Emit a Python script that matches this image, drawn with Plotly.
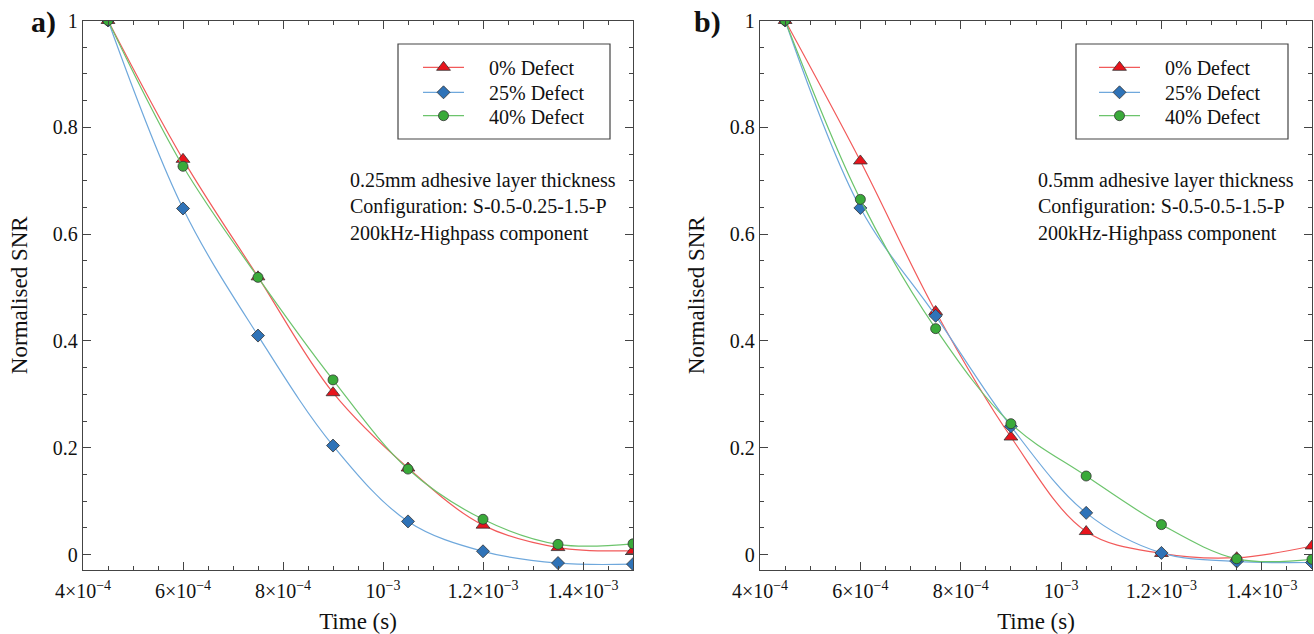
import plotly.graph_objects as go

# ---- data ----
time_s = [4.5e-4, 6.0e-4, 7.5e-4, 9.0e-4, 1.05e-3, 1.2e-3, 1.35e-3, 1.5e-3]

a_0 = [1.0, 0.740, 0.520, 0.303, 0.162, 0.055, 0.013, 0.007]
a_25 = [1.0, 0.648, 0.410, 0.204, 0.062, 0.006, -0.016, -0.018]
a_40 = [1.0, 0.727, 0.519, 0.327, 0.160, 0.066, 0.019, 0.020]

b_0 = [1.0, 0.737, 0.455, 0.220, 0.043, 0.002, -0.006, 0.016]
b_25 = [1.0, 0.649, 0.447, 0.240, 0.078, 0.003, -0.013, -0.015]
b_40 = [1.0, 0.665, 0.423, 0.245, 0.147, 0.056, -0.008, -0.009]

series_names = ["0% Defect", "25% Defect", "40% Defect"]
x_tickvals = [4e-4, 6e-4, 8e-4, 1e-3, 1.2e-3, 1.4e-3]
x_ticktext = ["4×10<sup>−4</sup>", "6×10<sup>−4</sup>", "8×10<sup>−4</sup>",
              "10<sup>−3</sup>", "1.2×10<sup>−3</sup>", "1.4×10<sup>−3</sup>"]
y_tickvals = [0, 0.2, 0.4, 0.6, 0.8, 1]
y_ticktext = ["0", "0.2", "0.4", "0.6", "0.8", "1"]

notes_a = ["0.25mm adhesive layer thickness", "Configuration: S-0.5-0.25-1.5-P",
           "200kHz-Highpass component"]
notes_b = ["0.5mm adhesive layer thickness", "Configuration: S-0.5-0.5-1.5-P",
           "200kHz-Highpass component"]

# ---- styles ----
line_colors = ["#f25a5a", "#6fa8dc", "#6cc46c"]
marker_colors = ["#e8141c", "#2f73b8", "#3aaa3a"]
symbols = ["triangle-up", "diamond", "circle"]
msizes = [12, 10, 10]
FONT = "Liberation Serif"
TXT = "#111111"
W, H = 1314, 634


def px_x(p):
    return p / W


def px_y(p):
    return 1 - p / H


fig = go.Figure()

legend_rows = [67.3, 92.3, 115.7]
panels = [
    ("x", "y", [a_0, a_25, a_40], 1, 418),
    ("x2", "y2", [b_0, b_25, b_40], 4, 1094),
]
legend_layouts = {}
for xa, ya, ys, lg0, legx in panels:
    for i, yv in enumerate(ys):
        lname = "legend" if lg0 + i == 1 else "legend%d" % (lg0 + i)
        fig.add_trace(go.Scatter(
            x=time_s, y=yv, xaxis=xa, yaxis=ya, legend=lname,
            name="\u00a0\u00a0\u00a0\u00a0" + series_names[i],
            mode="lines+markers", cliponaxis=True,
            line=dict(color=line_colors[i], width=1.2, shape="spline", smoothing=1.0),
            marker=dict(symbol=symbols[i], size=msizes[i], color=marker_colors[i],
                        line=dict(color="#333333", width=0.8)),
        ))
        legend_layouts[lname] = dict(
            xref="paper", yref="paper", xanchor="left", yanchor="middle",
            x=px_x(legx), y=px_y(legend_rows[i]),
            bgcolor="rgba(0,0,0,0)", borderwidth=0,
            font=dict(family=FONT, size=20, color=TXT),
            itemwidth=41,
        )

ydom = [px_y(570), px_y(20.5)]


def make_axis():
    return dict(
        showline=True, linecolor="#444444", linewidth=1.3, mirror="ticks",
        ticks="inside", ticklen=8, tickcolor="#444444", tickwidth=1,
        showgrid=False, zeroline=False, automargin=False,
        tickfont=dict(family=FONT, size=20, color=TXT),
    )


def make_x(dom, anchor):
    d = make_axis()
    d.update(range=[4e-4, 1.5e-3], tickvals=x_tickvals, ticktext=x_ticktext,
             domain=dom, anchor=anchor, ticklabelstandoff=3,
             minor=dict(ticks="inside", ticklen=4, tickcolor="#444444", dtick=5e-5,
                        tick0=4e-4, showgrid=False),
             title=dict(text="Time (s)", font=dict(family=FONT, size=23, color=TXT), standoff=12))
    return d


def make_y(dom, anchor):
    d = make_axis()
    d.update(range=[-0.029, 1.0], tickvals=y_tickvals, ticktext=y_ticktext,
             domain=dom, anchor=anchor,
             minor=dict(ticks="inside", ticklen=4, tickcolor="#444444", dtick=0.05,
                        tick0=0, showgrid=False),
             title=dict(text="Normalised SNR", font=dict(family=FONT, size=23, color=TXT),
                        standoff=18))
    return d


fig.update_layout(
    template="none",
    width=W, height=H,
    margin=dict(l=0, r=0, t=0, b=0, autoexpand=False),
    paper_bgcolor="white", plot_bgcolor="white",
    font=dict(family=FONT, color=TXT),
    showlegend=True,
    xaxis=make_x([px_x(83), px_x(633)], "y"),
    yaxis=make_y(ydom, "x"),
    xaxis2=make_x([px_x(760), px_x(1312)], "y2"),
    yaxis2=make_y(ydom, "x2"),
)
fig.update_layout(**legend_layouts)

# legend frames
for x0, x1 in [(398, 610), (1076, 1288)]:
    fig.add_shape(type="rect", xref="paper", yref="paper",
                  x0=px_x(x0), x1=px_x(x1), y0=px_y(139), y1=px_y(44),
                  line=dict(color="#444444", width=1.2), fillcolor="rgba(0,0,0,0)", layer="above")

# panel labels
fig.add_annotation(text="<b>a)</b>", x=px_x(43), y=px_y(22), xref="paper", yref="paper",
                   showarrow=False, font=dict(family=FONT, size=30, color=TXT),
                   xanchor="center", yanchor="middle")
fig.add_annotation(text="<b>b)</b>", x=px_x(707), y=px_y(22), xref="paper", yref="paper",
                   showarrow=False, font=dict(family=FONT, size=30, color=TXT),
                   xanchor="center", yanchor="middle")

# notes
for notes, xl in [(notes_a, 348), (notes_b, 1036)]:
    for j, t in enumerate(notes):
        fig.add_annotation(text=t, x=px_x(xl), y=px_y(180 + 27 * j), xref="paper", yref="paper",
                           showarrow=False, xanchor="left", yanchor="middle",
                           font=dict(family=FONT, size=20, color=TXT))

fig.write_html("out.html")
